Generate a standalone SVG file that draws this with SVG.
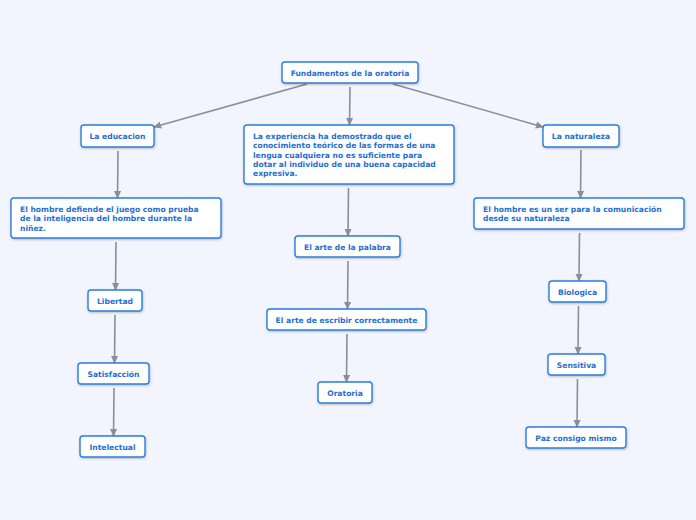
<svg xmlns="http://www.w3.org/2000/svg" width="696" height="520" viewBox="0 0 696 520">
<defs>
<style>
.n rect{fill:#ffffff;stroke:#2a7de1;stroke-width:1.4;filter:url(#sh)}
.n text{font-family:"DejaVu Sans",Verdana,sans-serif;font-weight:bold;font-size:7.6px;fill:#1f6fd6}
.c{text-anchor:middle}
#edges line{stroke:#8a8e96;stroke-width:1.6;marker-end:url(#ah)}
</style>
<filter id="sh" x="-10%" y="-20%" width="120%" height="150%">
<feDropShadow dx="0.5" dy="1" stdDeviation="0.8" flood-color="#000" flood-opacity="0.25"/>
</filter>
<marker id="ah" viewBox="0 0 10 10" refX="9" refY="5" markerWidth="8" markerHeight="8" markerUnits="userSpaceOnUse" orient="auto">
<path d="M0,0.5 L10,5 L0,9.5 z" fill="#8a8e96"/>
</marker>
</defs>
<rect width="696" height="520" fill="#f2f5fd"/>
<g id="edges">
<line x1="307" y1="84" x2="154" y2="127"/>
<line x1="350" y1="87" x2="349.5" y2="125"/>
<line x1="393" y1="84" x2="543" y2="127"/>
<line x1="118" y1="151" x2="117.5" y2="198"/>
<line x1="116" y1="242" x2="115.5" y2="290"/>
<line x1="115" y1="315" x2="114.5" y2="363"/>
<line x1="114" y1="388" x2="113.5" y2="436"/>
<line x1="348.5" y1="188" x2="348" y2="236"/>
<line x1="348" y1="261" x2="347.5" y2="309"/>
<line x1="347" y1="334" x2="346.5" y2="382"/>
<line x1="581" y1="150" x2="580.5" y2="198"/>
<line x1="579.5" y1="233" x2="579" y2="281"/>
<line x1="578.5" y1="306" x2="578" y2="354"/>
<line x1="577.5" y1="379" x2="577" y2="427"/>
</g>
<g id="n1" class="n"><rect x="282" y="62" width="136" height="21" rx="3"/><text class="c" x="350" y="75.5">Fundamentos de la oratoria</text></g>
<g id="n2" class="n"><rect x="81" y="125" width="73" height="22" rx="3"/><text class="c" x="117.5" y="138.5">La educacion</text></g>
<g id="n3" class="n"><rect x="244" y="125" width="210" height="59" rx="3"/>
<text x="253" y="139">La experiencia ha demostrado que el</text>
<text x="253" y="148.3">conocimiento teórico de las formas de una</text>
<text x="253" y="157.6">lengua cualquiera no es suficiente para</text>
<text x="253" y="166.9">dotar al individuo de una buena capacidad</text>
<text x="253" y="176.2">expresiva.</text></g>
<g id="n4" class="n"><rect x="543" y="125" width="76" height="22" rx="3"/><text class="c" x="581" y="138.5">La naturaleza</text></g>
<g id="n5" class="n"><rect x="11" y="198" width="210" height="40" rx="3"/>
<text x="20" y="212">El hombre defiende el juego como prueba</text>
<text x="20" y="221.3">de la inteligencia del hombre durante la</text>
<text x="20" y="230.6">niñez.</text></g>
<g id="n6" class="n"><rect x="474" y="198" width="210" height="31" rx="3"/>
<text x="483" y="212">El hombre es un ser para la comunicación</text>
<text x="483" y="221.3">desde su naturaleza</text></g>
<g id="n7" class="n"><rect x="295" y="236" width="105" height="21" rx="3"/><text class="c" x="347.5" y="249.5">El arte de la palabra</text></g>
<g id="n8" class="n"><rect x="88" y="290" width="54" height="21" rx="3"/><text class="c" x="115" y="303.5">Libertad</text></g>
<g id="n9" class="n"><rect x="549" y="281" width="57" height="21" rx="3"/><text class="c" x="577.5" y="294.5">Biologica</text></g>
<g id="n10" class="n"><rect x="267" y="309" width="159" height="21" rx="3"/><text class="c" x="346.5" y="322.5">El arte de escribir correctamente</text></g>
<g id="n11" class="n"><rect x="78" y="363" width="71" height="21" rx="3"/><text class="c" x="113.5" y="376.5">Satisfacción</text></g>
<g id="n12" class="n"><rect x="548" y="354" width="57" height="21" rx="3"/><text class="c" x="576.5" y="367.5">Sensitiva</text></g>
<g id="n13" class="n"><rect x="318" y="382" width="54" height="21" rx="3"/><text class="c" x="345" y="395.5">Oratoria</text></g>
<g id="n14" class="n"><rect x="80" y="436" width="65" height="21" rx="3"/><text class="c" x="112.5" y="449.5">Intelectual</text></g>
<g id="n15" class="n"><rect x="526" y="427" width="100" height="21" rx="3"/><text class="c" x="576" y="440.5">Paz consigo mismo</text></g>
</svg>
